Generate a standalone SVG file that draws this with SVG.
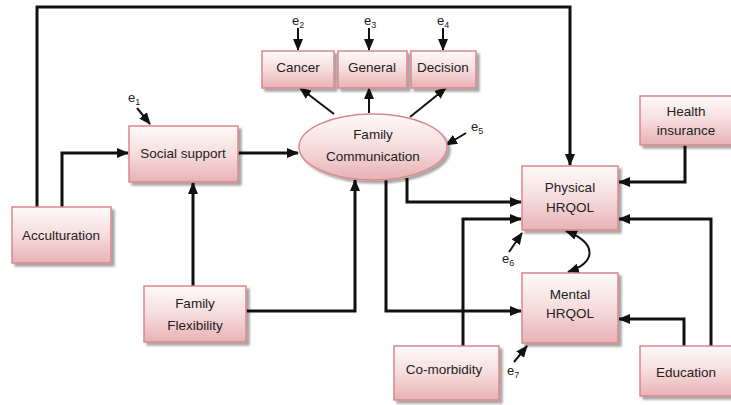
<svg xmlns="http://www.w3.org/2000/svg" width="731" height="405" viewBox="0 0 731 405">
<defs>
<linearGradient id="g" x1="0" y1="0" x2="0" y2="1">
<stop offset="0" stop-color="#fefafa"/>
<stop offset="0.5" stop-color="#f6dcdd"/>
<stop offset="1" stop-color="#e8b1b5"/>
</linearGradient>
<filter id="sh" x="-10%" y="-10%" width="130%" height="140%">
<feGaussianBlur in="SourceAlpha" stdDeviation="1"/>
<feOffset dx="3" dy="3"/>
<feComponentTransfer><feFuncA type="linear" slope="0.35"/></feComponentTransfer>
<feMerge><feMergeNode/><feMergeNode in="SourceGraphic"/></feMerge>
</filter>
<marker id="a" markerUnits="userSpaceOnUse" markerWidth="12" markerHeight="10" refX="11" refY="5" orient="auto">
<path d="M0,0 L12,5 L0,10 z" fill="#111"/>
</marker>
<marker id="as" markerUnits="userSpaceOnUse" markerWidth="12" markerHeight="10" refX="1" refY="5" orient="auto">
<path d="M12,0 L0,5 L12,10 z" fill="#111"/>
</marker>
</defs>
<style>
.n{fill:url(#g);stroke:#d9878d;stroke-width:1.5;filter:url(#sh)}
.t{font-family:"Liberation Sans",Arial,sans-serif;font-size:13.5px;fill:#222;text-anchor:middle}
.e{font-family:"Liberation Sans",Arial,sans-serif;font-size:13px;fill:#222}
.s{font-size:9px}
.c{fill:none;stroke:#111;stroke-width:3;marker-end:url(#a)}
.ce{fill:none;stroke:#111;stroke-width:2;marker-end:url(#a)}
</style>
<g id="connectors">
<path class="c" d="M37,207 V7 H570 V165"/>
<path class="c" d="M62,207 V153 H128"/>
<path class="c" d="M238,153 H298"/>
<path class="c" d="M193,286 V183"/>
<path class="c" d="M246,311 H355 V180"/>
<path class="ce" d="M334,114 L300,88"/>
<path class="ce" d="M369,113 V88"/>
<path class="ce" d="M410,117 L446,88"/>
<path class="c" d="M407,178 V202 H521"/>
<path class="c" d="M386,178 V311 H521"/>
<path class="c" d="M685,145 V182 H619"/>
<path class="c" d="M463,346 V219 H521"/>
<path class="c" d="M684,346 V319 H619"/>
<path class="c" d="M711,346 V219 H619"/>
<path d="M566,231 C597,243 597,262 568,272" fill="none" stroke="#111" stroke-width="2" marker-start="url(#as)" marker-end="url(#a)"/>
<path class="ce" d="M137,108 L150,124"/>
<path class="ce" d="M298,28 V50"/>
<path class="ce" d="M369,28 V50"/>
<path class="ce" d="M443,28 V50"/>
<path class="ce" d="M466,133 L446,145"/>
<path class="ce" d="M509,252 L522,233"/>
<path class="ce" d="M514,362 L527,346"/>
</g>
<g id="acculturation"><rect class="n" x="12" y="207" width="99" height="56"/><text class="t" x="61" y="240">Acculturation</text></g>
<g id="social-support"><rect class="n" x="129" y="126" width="109" height="56"/><text class="t" x="183" y="158">Social support</text></g>
<g id="family-flexibility"><rect class="n" x="144" y="286" width="102" height="56"/><text class="t" x="195" y="308">Family</text><text class="t" x="195" y="330">Flexibility</text></g>
<g id="family-communication"><ellipse class="n" cx="373" cy="147" rx="74" ry="33"/><text class="t" x="373" y="139">Family</text><text class="t" x="373" y="161">Communication</text></g>
<g id="cancer"><rect class="n" x="262" y="51" width="72" height="37"/><text class="t" x="298" y="72">Cancer</text></g>
<g id="general"><rect class="n" x="338" y="51" width="69" height="37"/><text class="t" x="372" y="72">General</text></g>
<g id="decision"><rect class="n" x="411" y="51" width="65" height="37"/><text class="t" x="443" y="72">Decision</text></g>
<g id="health-insurance"><rect class="n" x="640" y="96" width="95" height="49"/><text class="t" x="686" y="116">Health</text><text class="t" x="686" y="135">insurance</text></g>
<g id="physical-hrqol"><rect class="n" x="522" y="166" width="96" height="64"/><text class="t" x="570" y="192">Physical</text><text class="t" x="570" y="212">HRQOL</text></g>
<g id="mental-hrqol"><rect class="n" x="522" y="273" width="96" height="70"/><text class="t" x="570" y="299">Mental</text><text class="t" x="570" y="318">HRQOL</text></g>
<g id="co-morbidity"><rect class="n" x="394" y="346" width="105" height="54"/><text class="t" x="444" y="374">Co-morbidity</text></g>
<g id="education"><rect class="n" x="640" y="346" width="95" height="50"/><text class="t" x="686" y="377">Education</text></g>
<g id="errors">
<text class="e" x="128" y="102">e<tspan class="s" dy="3">1</tspan></text>
<text class="e" x="292" y="25">e<tspan class="s" dy="3">2</tspan></text>
<text class="e" x="364" y="25">e<tspan class="s" dy="3">3</tspan></text>
<text class="e" x="437" y="25">e<tspan class="s" dy="3">4</tspan></text>
<text class="e" x="471" y="131">e<tspan class="s" dy="3">5</tspan></text>
<text class="e" x="502" y="263">e<tspan class="s" dy="3">6</tspan></text>
<text class="e" x="507" y="375">e<tspan class="s" dy="3">7</tspan></text>
</g>
</svg>
